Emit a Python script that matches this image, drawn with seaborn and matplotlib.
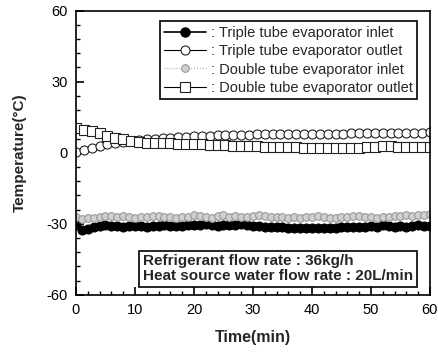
import numpy as np
import pandas as pd
import matplotlib
matplotlib.use("Agg")
import matplotlib.pyplot as plt
import seaborn as sns
from matplotlib.lines import Line2D
from matplotlib.ticker import MultipleLocator

# ---------------- data ----------------
t_inlet = list(range(0, 61))
triple_inlet = [
    -30.5, -32.8, -32.2, -31.2, -30.9, -30.7, -30.9, -31.1, -31.2, -31.0,
    -30.8, -31.0, -31.2, -31.0, -30.8, -30.6, -30.8, -31.0, -30.8, -30.6,
    -30.5, -30.6, -30.1, -30.5, -30.8, -30.6, -30.5, -30.4, -30.0, -30.6,
    -30.8, -31.0, -31.2, -31.4, -31.2, -31.5, -31.6, -31.8, -31.6, -31.8,
    -32.0, -31.8, -32.0, -31.8, -31.6, -31.5, -31.4, -31.2, -31.4, -31.2,
    -31.0, -31.2, -30.6, -31.0, -31.2, -31.0, -31.2, -30.8, -30.5, -31.0,
    -30.8]
double_inlet = [
    -27.0, -27.8, -27.5, -27.6, -27.2, -26.8, -26.6, -27.0, -26.8, -27.2,
    -27.4, -27.2, -27.0, -26.6, -26.8, -27.0, -27.3, -27.4, -27.2, -27.3,
    -26.5, -26.8, -27.2, -27.4, -26.9, -26.5, -27.0, -26.8, -27.2, -27.3,
    -26.6, -26.4, -26.8, -27.0, -27.2, -27.3, -27.4, -27.3, -27.5, -27.2,
    -27.0, -26.9, -27.3, -27.5, -27.4, -27.3, -27.2, -26.8, -26.6, -27.0,
    -27.3, -27.4, -27.2, -27.0, -26.8, -26.6, -26.4, -26.6, -26.5, -26.2,
    -26.0]

t_outlet = [0, 1.33, 2.67, 4, 5.33, 6.67, 8, 9.33, 10.67, 12, 13.33, 14.67,
            16, 17.33, 18.67, 20, 21.33, 22.67, 24, 25.33, 26.67, 28, 29.33,
            30.67, 32, 33.33, 34.67, 36, 37.33, 38.67, 40, 41.33, 42.67, 44,
            45.33, 46.67, 48, 49.33, 50.67, 52, 53.33, 54.67, 56, 57.33,
            58.67, 60]
triple_outlet = [0.5, 1.3, 2.0, 2.8, 3.5, 4.1, 4.6, 5.0, 5.4, 5.7, 6.0, 6.2,
                 6.4, 6.6, 6.8, 7.0, 7.1, 7.2, 7.3, 7.4, 7.5, 7.5, 7.6, 7.7,
                 7.7, 7.8, 7.8, 7.9, 7.9, 8.0, 8.0, 8.0, 8.1, 8.1, 8.1, 8.2,
                 8.2, 8.2, 8.3, 8.3, 8.3, 8.4, 8.4, 8.4, 8.5, 8.8]
double_outlet = [10.6, 9.8, 9.2, 8.2, 7.2, 6.4, 5.6, 5.0, 4.6, 4.3, 4.1, 4.0,
                 3.9, 3.8, 3.6, 3.5, 3.6, 3.3, 3.2, 3.3, 3.0, 2.9, 2.8, 2.8,
                 2.6, 2.5, 2.5, 2.4, 2.3, 2.2, 2.2, 2.1, 2.0, 2.0, 2.0, 2.0,
                 2.1, 2.3, 2.6, 2.8, 2.7, 2.6, 2.5, 2.4, 2.4, 2.3]

legend_labels = [": Triple tube evaporator inlet",
                 ": Triple tube evaporator outlet",
                 ": Double tube evaporator inlet",
                 ": Double tube evaporator outlet"]
x_ticks = [0, 10, 20, 30, 40, 50, 60]
y_ticks = [-60, -30, 0, 30, 60]
note_text = "Refrigerant flow rate : 36kg/h\nHeat source water flow rate : 20L/min"

# ---------------- plot ----------------
sns.set_theme(style="white")
plt.rcParams['font.family'] = ['Liberation Sans', 'DejaVu Sans']

fig = plt.figure(figsize=(4.38, 3.56), dpi=100)
ax = fig.add_axes([0.1735, 0.172, 0.808, 0.798])

sty_ti = dict(color='black', marker='o', markersize=6.5, markerfacecolor='black',
              markeredgecolor='black', linewidth=1.2)
sty_to = dict(color='black', marker='o', markersize=6.5, markerfacecolor='white',
              markeredgecolor='#222222', markeredgewidth=0.8, linewidth=0.8)
sty_di = dict(color='#aaaaaa', marker='o', markersize=5.5, markerfacecolor='#d0d0d0',
              markeredgecolor='#999999', markeredgewidth=0.8, linewidth=0.8,
              linestyle=':')
sty_do = dict(color='black', marker='s', markersize=6.5, markerfacecolor='white',
              markeredgecolor='#222222', markeredgewidth=0.8, linewidth=0.8)

sns.lineplot(x=t_inlet, y=triple_inlet, ax=ax, **sty_ti)
sns.lineplot(x=t_inlet, y=double_inlet, ax=ax, **sty_di)
sns.lineplot(x=t_outlet, y=triple_outlet, ax=ax, **sty_to)
sns.lineplot(x=t_outlet, y=double_outlet, ax=ax, **sty_do)

ax.set_xlim(0, 60)
ax.set_ylim(-60, 60)
ax.set_xticks(x_ticks)
ax.set_yticks(y_ticks)
ax.set_xticklabels([str(v) for v in x_ticks])
ax.set_yticklabels([str(v) for v in y_ticks])
ax.xaxis.set_minor_locator(MultipleLocator(2))
ax.yaxis.set_minor_locator(MultipleLocator(6))
ax.tick_params(which='major', direction='in', length=6, width=1.2,
               labelsize=10.5, color='black', labelcolor='black', pad=6,
               bottom=True, left=True, top=False, right=False)
ax.tick_params(which='minor', direction='in', length=3, width=1.0,
               color='black', bottom=True, left=True, top=False, right=False)
for s in ax.spines.values():
    s.set_color('black')
    s.set_linewidth(1.2)

ax.set_xlabel("Time(min)", fontsize=11.5, fontweight='bold', labelpad=9)
ax.set_ylabel("Temperature(\u00b0C)", fontsize=11, fontweight='bold', labelpad=14)

handles = [Line2D([], [], **sty_ti), Line2D([], [], **sty_to),
           Line2D([], [], **sty_di), Line2D([], [], **sty_do)]
leg = ax.legend(handles, legend_labels, loc='upper right',
                bbox_to_anchor=(0.963, 0.962), fontsize=10.5, frameon=True,
                fancybox=False, framealpha=1, edgecolor='black',
                handlelength=2.9, handletextpad=0.3, labelspacing=0.3,
                borderpad=0.3, borderaxespad=0)
leg.get_frame().set_linewidth(1.2)

ax.text(0.19, 0.092, note_text, transform=ax.transAxes, fontsize=11,
        fontweight='bold', va='center', ha='left', linespacing=1.05,
        bbox=dict(boxstyle='square,pad=0.25', facecolor='white',
                  edgecolor='black', linewidth=1.2))

fig.savefig("out.png", dpi=100)
